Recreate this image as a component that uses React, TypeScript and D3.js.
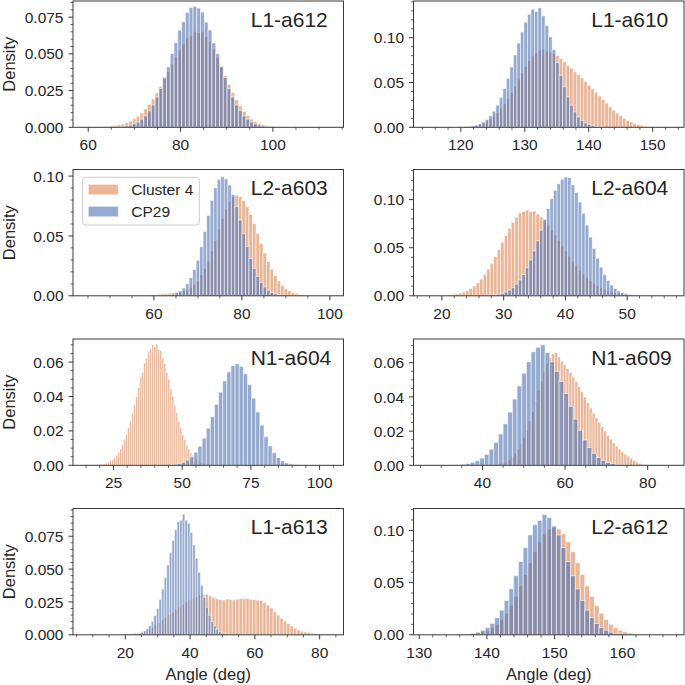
import * as React from "react";
import * as d3 from "d3";

// ---- data ----

const panelTitles = ["L1-a612", "L1-a610", "L2-a603", "L2-a604", "N1-a604", "N1-a609", "L1-a613", "L2-a612"];
const seriesNames = ["Cluster 4", "CP29"];

const xDomains: [number, number][] = [
  [56.7, 115.3], [112.6, 154.9], [41.6, 103.1], [15.4, 59.2],
  [10.25, 108.7], [23.3, 88.8], [3.86, 87.36], [129.16, 169.1],
];
const yDomains: [number, number][] = [
  [0, 0.086], [0, 0.141], [0, 0.1055], [0, 0.1313],
  [0, 0.0734], [0, 0.0739], [0, 0.0961], [0, 0.121],
];
const xTicks = [
  [60, 80, 100], [120, 130, 140, 150], [60, 80, 100], [20, 30, 40, 50],
  [25, 50, 75, 100], [40, 60, 80], [20, 40, 60, 80], [130, 140, 150, 160],
];
const yTicks = [
  [0, 0.025, 0.05, 0.075], [0, 0.05, 0.1], [0, 0.05, 0.1], [0, 0.05, 0.1],
  [0, 0.02, 0.04, 0.06], [0, 0.02, 0.04, 0.06], [0, 0.025, 0.05, 0.075], [0, 0.05, 0.1],
];
const xMinorStep = [5, 2, 5, 2, 5, 5, 5, 2];
const yMinorStep = [0.005, 0.01, 0.01, 0.01, 0.005, 0.005, 0.005, 0.01];
const yDecimals = [3, 2, 2, 2, 2, 2, 3, 2];

// bin left edge / width for each panel
const c4Start = [63.83, 120.525, 55.2, 20.975, 19.195, 42.05, 20.475, 135.55];
const c4Width = [0.82, 0.55, 0.8, 0.57, 0.73, 0.7, 1.05, 0.7];
const cp29Start = [66.29, 120.525, 61.6, 27.245, 45.25, 33.695, 21.6, 135.55];
const cp29Width = [0.82, 0.55, 0.8, 0.57, 1.5, 1.13, 0.8, 0.7];

const c4L1a612 = [0.0005, 0.0007, 0.0011, 0.0016, 0.0022, 0.0031, 0.0042, 0.0057, 0.0075, 0.0097, 0.0124, 0.0156, 0.0193, 0.0234, 0.0279, 0.0328, 0.0378, 0.043, 0.048, 0.0526, 0.0568, 0.0608, 0.0621, 0.0652, 0.0644, 0.0649, 0.0618, 0.0581, 0.0532, 0.0476, 0.0415, 0.0353, 0.0292, 0.0236, 0.0187, 0.0144, 0.0108, 0.0079, 0.0056, 0.0039, 0.0027, 0.0018, 0.0011, 0.0007, 0.0004, 0.0003, 0.0002, 0.0001];
const cp29L1a612 = [0.0003, 0.0005, 0.0009, 0.0014, 0.0024, 0.0035, 0.0055, 0.0077, 0.0112, 0.0151, 0.0206, 0.0264, 0.034, 0.0411, 0.0502, 0.0576, 0.0661, 0.0718, 0.0782, 0.0815, 0.0823, 0.0812, 0.0784, 0.0716, 0.0662, 0.0574, 0.0501, 0.0412, 0.0339, 0.0263, 0.0206, 0.0151, 0.0113, 0.0077, 0.0055, 0.0036, 0.0023, 0.0015, 0.0009, 0.0005, 0.0003];

const c4L1a610 = [0.0007, 0.0011, 0.0016, 0.0024, 0.0035, 0.0049, 0.0068, 0.0093, 0.0124, 0.0162, 0.0208, 0.0261, 0.0322, 0.0389, 0.046, 0.0535, 0.0608, 0.0679, 0.0742, 0.0796, 0.0836, 0.0861, 0.087, 0.085, 0.084, 0.082, 0.08, 0.077, 0.073, 0.069, 0.066, 0.062, 0.059, 0.055, 0.051, 0.047, 0.043, 0.039, 0.035, 0.031, 0.027, 0.023, 0.019, 0.016, 0.013, 0.01, 0.0078, 0.006, 0.0042, 0.003, 0.0018, 0.001, 0.0006, 0.0003];
const cp29L1a610 = [0.0005, 0.0009, 0.0015, 0.0024, 0.0038, 0.0058, 0.0087, 0.0127, 0.018, 0.0247, 0.0331, 0.0432, 0.0547, 0.0673, 0.0807, 0.094, 0.1065, 0.1174, 0.1262, 0.1318, 0.1292, 0.1335, 0.1245, 0.1135, 0.1009, 0.0867, 0.0721, 0.058, 0.045, 0.0338, 0.0246, 0.0173, 0.0117, 0.0077, 0.0049, 0.003, 0.0018, 0.001, 0.0006, 0.0003];

const c4L2a603 = [0.0001, 0.0002, 0.0003, 0.0004, 0.0006, 0.0008, 0.001, 0.0013, 0.0016, 0.0019, 0.0022, 0.0026, 0.003, 0.0034, 0.004, 0.005, 0.0068, 0.0092, 0.012, 0.0175, 0.023, 0.0292, 0.0374, 0.0463, 0.0556, 0.0645, 0.0724, 0.0786, 0.0827, 0.084, 0.0829, 0.0796, 0.0745, 0.0679, 0.0602, 0.052, 0.0437, 0.0358, 0.0286, 0.0222, 0.0167, 0.0123, 0.0088, 0.0062, 0.0042, 0.0028, 0.0018, 0.0011, 0.0007, 0.0004, 0.0002];
const cp29L2a603 = [0.0003, 0.0005, 0.0009, 0.0015, 0.0025, 0.004, 0.0065, 0.01, 0.015, 0.022, 0.0297, 0.0409, 0.0537, 0.067, 0.0797, 0.0901, 0.0971, 0.0995, 0.0977, 0.0925, 0.0845, 0.0744, 0.0633, 0.0518, 0.0409, 0.0311, 0.0229, 0.0162, 0.011, 0.0073, 0.0046, 0.0028, 0.0017, 0.001, 0.0005, 0.0003];

const c4L2a604 = [0.0008, 0.0013, 0.0019, 0.0027, 0.0039, 0.0054, 0.0075, 0.0101, 0.0134, 0.0174, 0.0222, 0.0277, 0.0338, 0.0407, 0.048, 0.0554, 0.0628, 0.07, 0.0763, 0.0816, 0.0862, 0.0876, 0.089, 0.0872, 0.0881, 0.0848, 0.0817, 0.0778, 0.0733, 0.0684, 0.0631, 0.0576, 0.0521, 0.0465, 0.041, 0.0359, 0.0311, 0.0266, 0.0225, 0.0189, 0.0156, 0.0128, 0.0104, 0.0084, 0.0066, 0.0052, 0.004, 0.0031, 0.0024, 0.0018, 0.0013, 0.001, 0.0007, 0.0005, 0.0003];
const cp29L2a604 = [0.0004, 0.0007, 0.0011, 0.0017, 0.0026, 0.004, 0.0058, 0.0084, 0.012, 0.0165, 0.0221, 0.029, 0.0372, 0.0466, 0.0571, 0.0682, 0.0795, 0.0907, 0.1009, 0.1097, 0.1164, 0.1212, 0.1235, 0.1228, 0.1153, 0.1075, 0.0974, 0.0858, 0.0734, 0.0611, 0.0494, 0.0389, 0.0298, 0.0221, 0.016, 0.0112, 0.0077, 0.0051, 0.0033, 0.0021, 0.0013, 0.0008, 0.0005, 0.0003];

const c4N1a604 = [0.0003, 0.0004, 0.0006, 0.0009, 0.0013, 0.0018, 0.0025, 0.0033, 0.0044, 0.0057, 0.0074, 0.0095, 0.0119, 0.0147, 0.018, 0.0217, 0.0258, 0.0302, 0.035, 0.04, 0.0452, 0.0511, 0.0541, 0.0594, 0.0622, 0.0663, 0.0675, 0.0701, 0.069, 0.0705, 0.0672, 0.0668, 0.0624, 0.0592, 0.0541, 0.0501, 0.0446, 0.0402, 0.0347, 0.0305, 0.0255, 0.0219, 0.0178, 0.0149, 0.0117, 0.0096, 0.0073, 0.0058, 0.0043, 0.0034, 0.0024, 0.0018, 0.0013, 0.0009, 0.0006, 0.0004, 0.0003];
const cp29N1a604 = [0.0003, 0.0006, 0.0011, 0.0018, 0.0031, 0.0049, 0.0076, 0.0111, 0.0158, 0.0216, 0.0282, 0.0353, 0.0425, 0.049, 0.0543, 0.0578, 0.059, 0.0575, 0.0532, 0.0468, 0.039, 0.031, 0.0233, 0.0166, 0.0113, 0.0073, 0.0045, 0.0026, 0.0014, 0.0007, 0.0004, 0.0002];

const c4N1a609 = [0.0002, 0.0004, 0.0007, 0.001, 0.0016, 0.0023, 0.0034, 0.0049, 0.0069, 0.0094, 0.0125, 0.0163, 0.0208, 0.0259, 0.0315, 0.0375, 0.0435, 0.0494, 0.0549, 0.0595, 0.063, 0.0653, 0.066, 0.0635, 0.061, 0.0589, 0.0566, 0.0543, 0.0518, 0.0491, 0.0461, 0.043, 0.0399, 0.0367, 0.0336, 0.0306, 0.0277, 0.0252, 0.0226, 0.0201, 0.0175, 0.0152, 0.0131, 0.0111, 0.0094, 0.0078, 0.0065, 0.0052, 0.0041, 0.003, 0.002, 0.0011, 0.0005, 0.0002];
const cp29N1a609 = [0.0003, 0.0006, 0.001, 0.0017, 0.0027, 0.0042, 0.0064, 0.0094, 0.0134, 0.0183, 0.0243, 0.0311, 0.0387, 0.0464, 0.0539, 0.0605, 0.0664, 0.069, 0.0705, 0.066, 0.0605, 0.055, 0.049, 0.042, 0.0345, 0.027, 0.0205, 0.0148, 0.0104, 0.007, 0.0046, 0.0029, 0.0017, 0.001, 0.0005, 0.0003];

const c4L1a613 = [0.0006, 0.0011, 0.0015, 0.0017, 0.0023, 0.003, 0.0042, 0.0056, 0.0075, 0.0094, 0.0114, 0.0133, 0.0152, 0.0171, 0.0191, 0.0209, 0.0229, 0.0249, 0.0265, 0.0278, 0.029, 0.0302, 0.0306, 0.0308, 0.0296, 0.0282, 0.0274, 0.0268, 0.0265, 0.0272, 0.0269, 0.0266, 0.0271, 0.0275, 0.0273, 0.0276, 0.027, 0.0267, 0.0263, 0.0262, 0.0245, 0.0227, 0.0204, 0.0176, 0.015, 0.0124, 0.0104, 0.0086, 0.0066, 0.0048, 0.0037, 0.0028, 0.0021, 0.0016, 0.001, 0.0005];
const cp29L1a613 = [0.0002, 0.0004, 0.0007, 0.0012, 0.0019, 0.003, 0.0047, 0.0071, 0.0103, 0.0147, 0.0201, 0.0269, 0.0348, 0.0436, 0.0531, 0.0627, 0.0718, 0.0799, 0.0861, 0.0872, 0.0918, 0.0872, 0.0848, 0.0778, 0.0684, 0.0582, 0.0476, 0.0376, 0.0286, 0.021, 0.0149, 0.0102, 0.0067, 0.0043, 0.0026, 0.0016, 0.0009, 0.0005, 0.0003];

const c4L2a612 = [0.0002, 0.0003, 0.0006, 0.001, 0.0017, 0.0028, 0.0044, 0.0068, 0.0101, 0.0147, 0.0206, 0.0279, 0.0368, 0.0468, 0.0577, 0.0689, 0.0796, 0.0891, 0.0966, 0.1013, 0.103, 0.1013, 0.0966, 0.0891, 0.0796, 0.0689, 0.0577, 0.0468, 0.0368, 0.0279, 0.0206, 0.0147, 0.0101, 0.0068, 0.0044, 0.0028, 0.0017, 0.001, 0.0006, 0.0003, 0.0002];
const cp29L2a612 = [0.0002, 0.0004, 0.0008, 0.0014, 0.0025, 0.0043, 0.0069, 0.0108, 0.0163, 0.0236, 0.0329, 0.044, 0.0566, 0.0701, 0.0835, 0.0956, 0.1055, 0.1096, 0.1152, 0.1124, 0.1041, 0.0956, 0.0835, 0.0701, 0.0566, 0.044, 0.0329, 0.0236, 0.0163, 0.0108, 0.0069, 0.0043, 0.0025, 0.0014, 0.0008, 0.0004, 0.0002];

const c4Density = [c4L1a612, c4L1a610, c4L2a603, c4L2a604, c4N1a604, c4N1a609, c4L1a613, c4L2a612];
const cp29Density = [cp29L1a612, cp29L1a610, cp29L2a603, cp29L2a604, cp29N1a604, cp29N1a609, cp29L1a613, cp29L2a612];

// ---- layout / style ----

const FONT = "'Liberation Sans', Arial, Helvetica, sans-serif";
const INK = "#262626";
const SPINE = "#3a3a3a";
const C4_COLOR = "#dd8452";
const CP29_COLOR = "#4c72b0";
const BAR_ALPHA = 0.6;
const EDGE_W = 0.9;

const COL_X = [73, 413.5];
const ROW_Y = [1, 169.5, 339, 508.5];
const PANEL_W = 270.5;
const PANEL_H = 126.3;
const MAJOR_LEN = 4.5;
const MINOR_LEN = 2.5;
const TICK_FONT = 15.5;

function minorTicks(domain: [number, number], step: number, majors: number[]) {
  const out: number[] = [];
  const k0 = Math.ceil(domain[0] / step - 1e-9);
  const k1 = Math.floor(domain[1] / step + 1e-9);
  for (let k = k0; k <= k1; k++) {
    const v = +(k * step).toFixed(6);
    if (!majors.some((m) => Math.abs(m - v) < step * 1e-3)) out.push(v);
  }
  return out;
}

function Bars({ start, width, values, color, x, y }: {
  start: number; width: number; values: number[]; color: string;
  x: d3.ScaleLinear<number, number>; y: d3.ScaleLinear<number, number>;
}) {
  return (
    <g>
      {values.map((v, i) => {
        const x0 = x(start + i * width);
        const x1 = x(start + (i + 1) * width);
        return (
          <rect
            key={i}
            x={x0}
            y={y(v)}
            width={Math.max(0, x1 - x0)}
            height={Math.max(0, y(0) - y(v))}
            fill={color}
            fillOpacity={BAR_ALPHA}
            stroke="#ffffff"
            strokeOpacity={BAR_ALPHA}
            strokeWidth={EDGE_W}
          />
        );
      })}
    </g>
  );
}

function Panel({ idx }: { idx: number }) {
  const row = Math.floor(idx / 2);
  const col = idx % 2;
  const left = COL_X[col];
  const top = ROW_Y[row];

  const x = d3.scaleLinear().domain(xDomains[idx]).range([0, PANEL_W]);
  const y = d3.scaleLinear().domain(yDomains[idx]).range([PANEL_H, 0]);
  const fmtY = d3.format(`.${yDecimals[idx]}f`);

  const xMinor = minorTicks(xDomains[idx], xMinorStep[idx], xTicks[idx]);
  const yMinor = minorTicks(yDomains[idx], yMinorStep[idx], yTicks[idx]);

  return (
    <g transform={`translate(${left},${top})`}>
      <defs>
        <clipPath id={`clip-${idx}`}>
          <rect x={0} y={0} width={PANEL_W} height={PANEL_H} />
        </clipPath>
      </defs>
      <g clipPath={`url(#clip-${idx})`}>
        <Bars start={c4Start[idx]} width={c4Width[idx]} values={c4Density[idx]} color={C4_COLOR} x={x} y={y} />
        <Bars start={cp29Start[idx]} width={cp29Width[idx]} values={cp29Density[idx]} color={CP29_COLOR} x={x} y={y} />
      </g>

      <rect x={0} y={0} width={PANEL_W} height={PANEL_H} fill="none" stroke={SPINE} strokeWidth={1} />

      {/* x ticks */}
      {xMinor.map((t) => (
        <line key={`xm${t}`} x1={x(t)} x2={x(t)} y1={PANEL_H} y2={PANEL_H + MINOR_LEN} stroke={SPINE} strokeWidth={0.8} />
      ))}
      {xTicks[idx].map((t) => (
        <g key={`x${t}`}>
          <line x1={x(t)} x2={x(t)} y1={PANEL_H} y2={PANEL_H + MAJOR_LEN} stroke={SPINE} strokeWidth={1} />
          <text x={x(t)} y={PANEL_H + 23} textAnchor="middle" fontSize={TICK_FONT} fill={INK}>{t}</text>
        </g>
      ))}

      {/* y ticks */}
      {yMinor.map((t) => (
        <line key={`ym${t}`} x1={-MINOR_LEN} x2={0} y1={y(t)} y2={y(t)} stroke={SPINE} strokeWidth={0.8} />
      ))}
      {yTicks[idx].map((t) => (
        <g key={`y${t}`}>
          <line x1={-MAJOR_LEN} x2={0} y1={y(t)} y2={y(t)} stroke={SPINE} strokeWidth={1} />
          <text x={-9.5} y={y(t)} dy="0.36em" textAnchor="end" fontSize={TICK_FONT} fill={INK}>{fmtY(t)}</text>
        </g>
      ))}

      <text x={PANEL_W * 0.657} y={25.5} fontSize={21} fill={INK}>{panelTitles[idx]}</text>

      {col === 0 && (
        <text transform={`translate(${14.5 - left},${PANEL_H / 2}) rotate(-90)`} textAnchor="middle" fontSize={16.5} fill={INK}>
          Density
        </text>
      )}
      {row === 3 && (
        <text x={PANEL_W / 2} y={680 - top} textAnchor="middle" fontSize={16.5} fill={INK}>
          Angle (deg)
        </text>
      )}

      {idx === 2 && (
        <g transform="translate(9.7,7.8)">
          <rect x={0} y={0} width={116.6} height={47.7} rx={3} fill="#ffffff" fillOpacity={0.8} stroke="#cccccc" strokeWidth={1} />
          {seriesNames.map((name, i) => (
            <g key={name} transform={`translate(5.6,${7 + i * 22})`}>
              <rect x={0} y={0} width={30} height={10.5} fill={i === 0 ? C4_COLOR : CP29_COLOR} fillOpacity={BAR_ALPHA} stroke="#ffffff" strokeOpacity={BAR_ALPHA} strokeWidth={EDGE_W} />
              <text x={43} y={5.3} dy="0.36em" fontSize={15.5} fill={INK}>{name}</text>
            </g>
          ))}
        </g>
      )}
    </g>
  );
}

export default function App() {
  return (
    <svg
      width={685}
      height={685}
      style={{ position: "absolute", left: 0, top: 0, background: "#ffffff" }}
      fontFamily={FONT}
    >
      {panelTitles.map((_, i) => (
        <Panel key={i} idx={i} />
      ))}
    </svg>
  );
}
